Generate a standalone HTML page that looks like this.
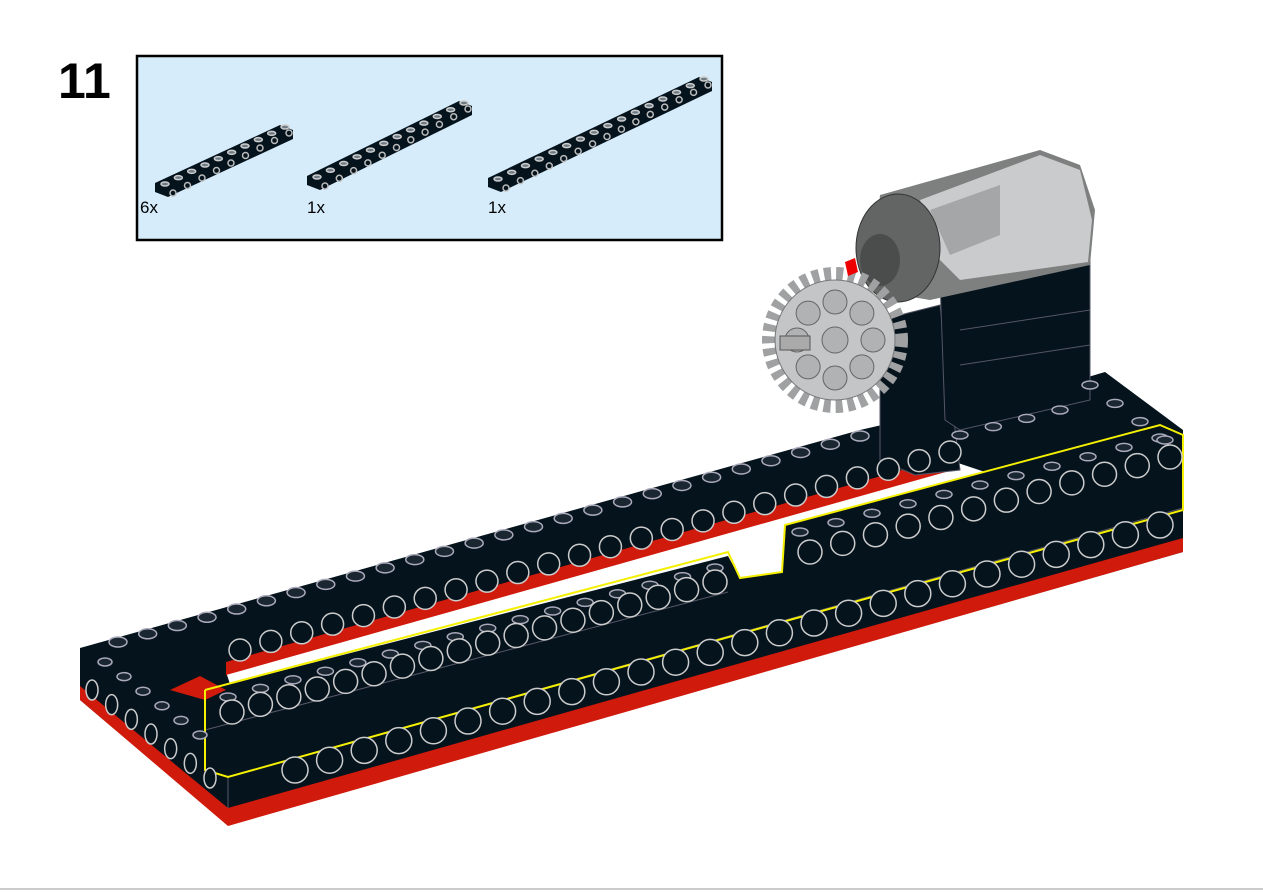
<!DOCTYPE html>
<html><head><meta charset="utf-8"><style>
html,body{margin:0;padding:0;background:#fff;width:1263px;height:894px;overflow:hidden}
svg{display:block}
</style></head><body>
<svg id="s" width="1263" height="894" viewBox="0 0 1263 894" xmlns="http://www.w3.org/2000/svg">
<text x="58" y="98" font-family="Liberation Sans, sans-serif" font-weight="bold" font-size="50" fill="#000">11</text>
<rect x="137" y="56" width="585" height="184" fill="#d6ecfa" stroke="#000" stroke-width="2.5"/>
<g id="parts"></g>
<text x="140" y="213" font-family="Liberation Sans, sans-serif" font-size="17">6x</text>
<text x="307" y="213" font-family="Liberation Sans, sans-serif" font-size="17">1x</text>
<text x="488" y="213" font-family="Liberation Sans, sans-serif" font-size="17">1x</text>

<polygon points="80,648 860,430 1078,380 1105,372 1183,430 1183,552 228,825 80,700" fill="#05131d"/>
<polygon points="80,686 228,808 228,826 80,700" fill="#d01a0c"/>
<polygon points="228,808 1183,538 1183,552 228,826" fill="#d01a0c"/>
<polygon points="226,672 955,462 985,472 785,525 782,572 740,578 728,556 230,684" fill="#fff"/>
<polygon points="226,662 955,455 960,468 226,675" fill="#d01a0c"/>
<polygon points="170,690 200,676 226,690 205,700" fill="#d01a0c"/>
<line x1="205" y1="730" x2="728" y2="592" stroke="#556" stroke-width="1"/>
<line x1="228" y1="777" x2="1183" y2="508" stroke="#556" stroke-width="1"/>
<line x1="228" y1="777" x2="228" y2="808" stroke="#556"/>
<polyline points="205,690 728,552 740,578 782,572 785,525 1160,425 1183,435 1183,510 228,777 205,770 205,690" fill="none" stroke="#f5ef00" stroke-width="2"/>

<polygon points="880,320 940,305 960,470 915,475 880,460" fill="#05131d" stroke="#556" stroke-width="1"/>
<polygon points="940,280 1090,260 1090,400 960,430 945,420" fill="#05131d" stroke="#556" stroke-width="1"/>
<line x1="960" y1="330" x2="1090" y2="310" stroke="#556"/>
<line x1="960" y1="365" x2="1090" y2="345" stroke="#556"/>
<polygon points="880,195 1040,150 1080,165 1095,210 1090,265 930,300 870,290" fill="#7e807f"/>
<polygon points="920,200 1040,155 1080,170 1092,220 1088,262 960,280 940,260" fill="#c9cbcc"/>
<polygon points="930,210 1000,185 1000,235 950,255" fill="#a4a6a7"/>
<ellipse cx="898" cy="248" rx="42" ry="54" fill="#626564" stroke="#333"/>
<ellipse cx="880" cy="260" rx="20" ry="26" fill="#4a4d4c"/>
<circle cx="835" cy="340" r="66" fill="none" stroke="#9fa1a2" stroke-width="14" stroke-dasharray="7 5"/>
<circle cx="835" cy="340" r="60" fill="#c3c5c6" stroke="#777"/>
<g id="gearh"></g>
<rect x="780" y="336" width="30" height="14" fill="#aaa" stroke="#555"/>
<polygon points="845,262 855,258 858,272 848,276" fill="#e00"/>
<g id="holes"></g>
<line x1="0" y1="889" x2="1263" y2="889" stroke="#ccc" stroke-width="2"/>
</svg>
<script>
var NS="http://www.w3.org/2000/svg";
function el(p,t,a){var e=document.createElementNS(NS,t);for(var k in a)e.setAttribute(k,a[k]);document.getElementById(p).appendChild(e);return e;}
function row(p,x1,y1,x2,y2,n,rx,ry,fill,stroke){for(var i=0;i<n;i++){var t=n>1?i/(n-1):0;el(p,"ellipse",{cx:x1+(x2-x1)*t,cy:y1+(y2-y1)*t,rx:rx,ry:ry,fill:fill,stroke:stroke,"stroke-width":1.5});}}
function beam(x1,y1,x2,y2,n){
 el("parts","polygon",{points:[x1,y1,x2-13,y2-5,x2,y2,x2,y2+9,x1+13,y1+14,x1,y1+9].join(","),fill:"#05131d"});
 row("parts",x1+10,y1+1,x2-8,y2-3,n,4,2,"#6c7a84","#ccc");
 row("parts",x1+18,y1+10,x2-4,y2+3,n-1,3,3,"#05131d","#bbb");
}
beam(155,183,293,130,10);beam(307,176,472,106,12);beam(488,178,712,82,16);
row("holes",118,642,860,436,26,9,5,"#1a2630","#aab");
row("holes",105,662,200,735,6,7,4,"#1a2630","#aab");
row("holes",92,690,210,778,7,6,10,"#05131d","#ccc");
row("holes",240,650,950,452,24,11,11,"#05131d","#ccc");
row("holes",228,697,715,568,16,8,4,"#1a2630","#aab");
row("holes",800,532,1160,438,11,8,4,"#1a2630","#aab");
row("holes",232,712,715,582,18,12,12,"#05131d","#ccc");
row("holes",810,552,1170,457,12,12,12,"#05131d","#ccc");
row("holes",295,770,1160,525,26,13,13,"#05131d","#ccc");
row("holes",1090,385,1165,440,4,8,4,"#1a2630","#aab");
row("holes",960,435,1060,410,4,8,4,"#1a2630","#aab");
for(var i=0;i<8;i++){var a=i*Math.PI/4;el("gearh","circle",{cx:835+38*Math.cos(a),cy:340+38*Math.sin(a),r:12,fill:"#b0b2b3",stroke:"#666"});}
el("gearh","circle",{cx:835,cy:340,r:13,fill:"#b0b2b3",stroke:"#666"});
</script>
</body></html>
